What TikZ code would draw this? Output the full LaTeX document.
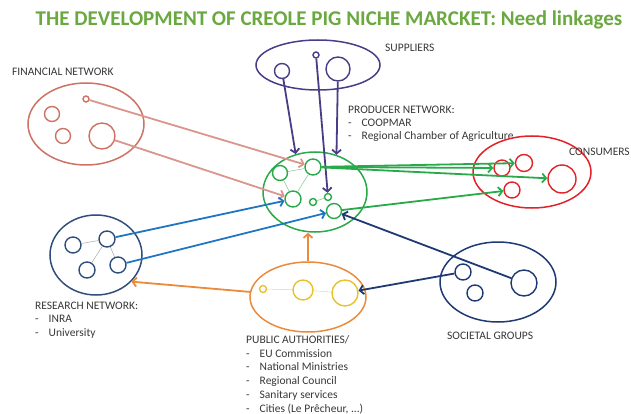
\documentclass[tikz,border=0pt]{standalone}
\usepackage{fontspec}
\setmainfont{Carlito}
\usepackage{tikz}
\usetikzlibrary{arrows.meta,shapes.geometric}

\definecolor{titlegreen}{RGB}{106,168,64}
\definecolor{textgray}{RGB}{55,55,55}
\definecolor{purp}{RGB}{74,60,134}
\definecolor{salmon}{RGB}{205,115,100}
\definecolor{salmonarrow}{RGB}{218,150,140}
\definecolor{prodgreen}{RGB}{40,170,74}
\definecolor{lightgreen}{RGB}{130,200,140}
\definecolor{consred}{RGB}{226,34,40}
\definecolor{resblue}{RGB}{47,78,124}
\definecolor{arrowblue}{RGB}{31,116,196}
\definecolor{puborange}{RGB}{236,138,60}
\definecolor{pubyellow}{RGB}{232,194,44}
\definecolor{lightyellow}{RGB}{234,214,128}
\definecolor{socnavy}{RGB}{30,58,114}

\newcommand{\dashitem}[1]{\makebox[13.5pt][l]{-}#1}

\begin{document}
\begin{tikzpicture}[x=1pt,y=-1pt,
  every node/.style={inner sep=0pt},
  ring/.style={circle,draw=#1,line width=1.4pt},
  oval/.style={ellipse,draw=#1,line width=1.5pt},
  link/.style={draw=#1,line width=1.8pt,-{Straight Barb[length=4pt,width=9pt]}},
  tie/.style={draw=#1,line width=0.5pt},
  lbl/.style={anchor=base west,text=textgray,align=left,font=\fontsize{11.5}{13.3}\selectfont}]

  \useasboundingbox (0,0) rectangle (631,414);

  \node[anchor=base,text=titlegreen,font=\fontsize{21}{24}\selectfont\bfseries] (title) at (329,26)
    {THE DEVELOPMENT OF CREOLE PIG NICHE MARCKET: Need linkages};

  % suppliers
  \node[oval=purp,minimum width=124,minimum height=50] (sup) at (318,65) {};
  \node[ring=purp,minimum size=15] (s1) at (282,71) {};
  \node[ring=purp,minimum size=6] (s2) at (316,55) {};
  \node[ring=purp,minimum size=24] (s3) at (338,69) {};
  \node[lbl] (suplbl) at (385,52) {SUPPLIERS};

  % producer network
  \node[oval=prodgreen,minimum width=104,minimum height=80] (prod) at (315,192) {};
  \node[ring=prodgreen,minimum size=15] (p1) at (280,173) {};
  \node[ring=prodgreen,minimum size=16] (p2) at (313,167) {};
  \node[ring=prodgreen,minimum size=16] (p3) at (293,199) {};
  \node[ring=prodgreen,minimum size=7] (p4) at (313,202) {};
  \node[ring=prodgreen,minimum size=7] (p5) at (328,197) {};
  \node[ring=prodgreen,minimum size=15] (p6) at (334,211) {};
  \draw[tie=lightgreen] (p1) -- (p2);
  \draw[tie=lightgreen] (p1) -- (p3);
  \draw[tie=lightgreen] (p2) -- (p3);
  \draw[tie=lightgreen] (p4) -- (p5);
  % base anchor sits on the last line
  \node[lbl] (prodlbl) at (348,140)
    {PRODUCER NETWORK:\\ \dashitem{COOPMAR}\\ \dashitem{Regional Chamber of Agriculture}};

  % financial network
  \node[oval=salmon,minimum width=116,minimum height=82] (fin) at (86,124) {};
  \node[ring=salmon,minimum size=6] (f1) at (86,99) {};
  \node[ring=salmon,minimum size=15] (f2) at (52,114) {};
  \node[ring=salmon,minimum size=15] (f3) at (63,136) {};
  \node[ring=salmon,minimum size=26] (f4) at (102,136) {};
  \node[lbl] (finlbl) at (12,76) {FINANCIAL NETWORK};

  % consumers
  \node[oval=consred,minimum width=118,minimum height=72] (cons) at (532,172) {};
  \node[ring=consred,minimum size=17] (k1) at (524,163) {};
  \node[ring=consred,minimum size=16] (k2) at (502,168) {};
  \node[ring=consred,minimum size=28] (k3) at (562,179) {};
  \node[ring=consred,minimum size=16] (k4) at (512,190) {};
  \node[lbl] (conslbl) at (569,156) {CONSUMERS};

  % research network
  \node[oval=resblue,minimum width=92,minimum height=80] (res) at (96,255) {};
  \node[ring=resblue,minimum size=16] (r1) at (73,245) {};
  \node[ring=resblue,minimum size=16] (r2) at (107,239) {};
  \node[ring=resblue,minimum size=16] (r3) at (87,270) {};
  \node[ring=resblue,minimum size=16] (r4) at (118,265) {};
  \draw[tie=gray!70] (r1) -- (r2);
  \draw[tie=gray!70] (r2) -- (r3);
  \draw[tie=gray!70] (r2) -- (r4);
  \node[lbl] (reslbl) at (35,336)
    {RESEARCH NETWORK:\\ \dashitem{INRA}\\ \dashitem{University}};

  % public authorities
  \node[oval=puborange,minimum width=116,minimum height=70] (pub) at (308,297) {};
  \node[ring=pubyellow,minimum size=7] (a1) at (263,289) {};
  \node[ring=pubyellow,minimum size=20] (a2) at (303,290) {};
  \node[ring=pubyellow,minimum size=26] (a3) at (345,293) {};
  \draw[tie=lightyellow] (a1) -- (a2);
  \draw[tie=lightyellow] (a2) -- (a3);
  \node[lbl,font=\fontsize{11.5}{13.7}\selectfont] (publbl) at (246,412)
    {PUBLIC AUTHORITIES/\\ \dashitem{EU Commission}\\ \dashitem{National Ministries}\\
     \dashitem{Regional Council}\\ \dashitem{Sanitary services}\\ \dashitem{Cities (Le Prêcheur, ...)}};

  % societal groups
  \node[oval=socnavy,minimum width=116,minimum height=80] (soc) at (498,282) {};
  \node[ring=socnavy,minimum size=16] (g1) at (463,272) {};
  \node[ring=socnavy,minimum size=16] (g2) at (475,293) {};
  \node[ring=socnavy,minimum size=26] (g3) at (524,283) {};
  \node[lbl] (soclbl) at (447,339) {SOCIETAL GROUPS};

  % linkages
  \draw[link=purp] (s1) -- (prod.117);
  \draw[link=purp] (s2) -- (p5);
  \draw[link=purp] (s3) -- (prod.60);

  \draw[link=salmonarrow] (f1) -- (p2);
  \draw[link=salmonarrow] (f4) -- (p3);

  \draw[link=prodgreen] (p2) -- (k1);
  \draw[link=prodgreen] (p2) -- (k2);
  \draw[link=prodgreen] (p2) -- (k3);
  \draw[link=prodgreen] (p6) -- (k4);

  \draw[link=arrowblue,{Straight Barb[length=4pt,width=9pt]}-] (p3) -- (r2);
  \draw[link=arrowblue,{Straight Barb[length=4pt,width=9pt]}-] (p6) -- (r4);

  \draw[link=puborange] (pub.north) -- (pub.north |- prod.south);
  \draw[link=puborange] (pub.175) -- (res.-37);

  \draw[link=socnavy] (g3) -- (p6);
  \draw[link=socnavy] (g1) -- (a3);

\end{tikzpicture}
\end{document}
